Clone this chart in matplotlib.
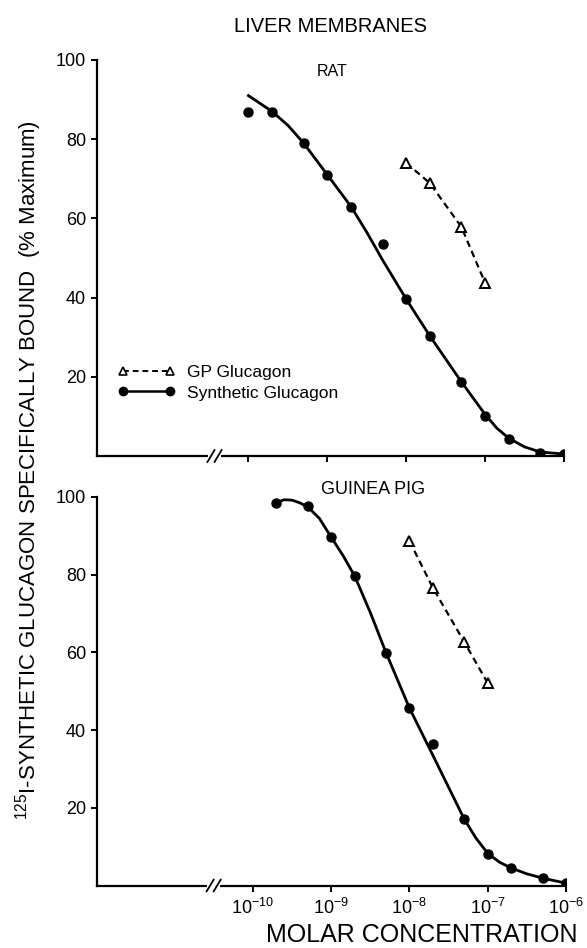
import matplotlib
matplotlib.use('Agg')
import matplotlib.pyplot as plt
import numpy as np

plt.rcParams['font.family'] = ['Liberation Sans', 'DejaVu Sans']
plt.rcParams['mathtext.fontset'] = 'custom'
plt.rcParams['mathtext.rm'] = 'Liberation Sans'
plt.rcParams['mathtext.it'] = 'Liberation Sans:italic'

# log10 of molar concentration
rat_syn_exp = [-10, -9.7, -9.3, -9, -8.7, -8.3, -8, -7.7, -7.3, -7, -6.7, -6.3, -6]
rat_syn = [86.9, 86.9, 79.0, 71.0, 62.9, 53.5, 39.6, 30.3, 18.7, 10.1, 4.3, 0.8, 0.5]
gp_exp = [-8, -7.7, -7.3, -7]
rat_gp = [74.0, 68.9, 57.8, 43.7]

gpig_syn_exp = [-9.7, -9.3, -9, -8.7, -8.3, -8, -7.7, -7.3, -7, -6.7, -6.3, -6]
gpig_syn = [98.5, 97.7, 89.7, 79.7, 59.8, 45.7, 36.4, 17.1, 8.1, 4.5, 1.9, 0.6]
gpig_gp = [88.7, 76.6, 62.7, 52.1]

# fitted curves
rat_fit_exp = [-10.0, -9.7, -9.5, -9.3, -9.0, -8.7, -8.5, -8.3, -8.0, -7.7, -7.5,
               -7.3, -7.0, -6.85, -6.7, -6.5, -6.3, -6.0]
rat_fit = [91, 87, 83.5, 79, 71, 63, 56.5, 49.5, 39.6, 30.3, 24.5,
           18.7, 10.5, 7, 4.5, 2.3, 1.0, 0.5]
gpig_fit_exp = [-9.7, -9.6, -9.5, -9.4, -9.3, -9.15, -9.0, -8.85, -8.7, -8.5, -8.3,
                -8.0, -7.7, -7.5, -7.3, -7.15, -7.0, -6.85, -6.7, -6.5, -6.3, -6.0]
gpig_fit = [98.5, 99.3, 99.2, 98.5, 97.5, 94.5, 89.7, 85, 79.7, 70.3, 60.0,
            45.7, 33.5, 25.3, 17.1, 12.2, 8.3, 6.0, 4.5, 3.0, 1.9, 0.6]

yticks = [20, 40, 60, 80, 100]
xticks_exp = [-10, -9, -8, -7, -6]

W, H = 587, 948
fig = plt.figure(figsize=(W / 100, H / 100), dpi=100)

ax1 = fig.add_axes([97 / W, 1 - 456 / H, (564 - 97) / W, (456 - 60) / H])
ax2 = fig.add_axes([97 / W, 1 - 885.5 / H, (566 - 97) / W, (885.5 - 497) / H])


def pow10(e):
    return 10.0 ** np.array(e)


def style(ax, xmin, labels):
    ax.set_xscale('log')
    ax.set_xlim(10 ** xmin, 10 ** -6)
    ax.set_ylim(0, 100)
    for s in ['top', 'right']:
        ax.spines[s].set_visible(False)
    for s in ['left', 'bottom']:
        ax.spines[s].set_linewidth(1.6)
    ax.set_yticks(yticks)
    ax.set_xticks(pow10(xticks_exp))
    ax.xaxis.set_minor_locator(matplotlib.ticker.NullLocator())
    if labels:
        ax.set_xticklabels(['$10^{%d}$' % e for e in xticks_exp])
    else:
        ax.set_xticklabels([])
    ax.tick_params(axis='both', direction='out', length=4, width=1.4,
                   labelsize=13, pad=4)
    ax.tick_params(axis='x', pad=5)
    # axis break
    bx = 10 ** (xmin + 1.49)
    tr = ax.get_xaxis_transform()
    ax.plot([bx * 10 ** -0.06, bx * 10 ** 0.06], [0, 0], color='white', lw=3,
            transform=tr, clip_on=False, zorder=5)
    for dx in (-0.045, 0.045):
        c = bx * 10 ** dx
        ax.plot([c * 10 ** -0.045, c * 10 ** 0.045], [-0.015, 0.015], color='black',
                lw=1.3, transform=tr, clip_on=False, zorder=6)


style(ax1, -11.92, False)
style(ax2, -11.99, True)

ax1.plot(pow10(rat_fit_exp), rat_fit, 'k-', lw=2)
ax1.plot(pow10(rat_syn_exp), rat_syn, 'ko', ms=6.5, ls='none')
ax1.plot(pow10(gp_exp), rat_gp, 'k--', lw=1.6, dashes=(3, 2), marker='^',
         ms=7, mfc='white', mec='black', mew=1.4)

ax2.plot(pow10(gpig_fit_exp), gpig_fit, 'k-', lw=2)
ax2.plot(pow10(gpig_syn_exp), gpig_syn, 'ko', ms=6.5, ls='none')
ax2.plot(pow10(gp_exp), gpig_gp, 'k--', lw=1.6, dashes=(3, 2), marker='^',
         ms=7, mfc='white', mec='black', mew=1.4)

# legend
h1, = ax1.plot([], [], 'k--', lw=1.4, dashes=(3, 2), marker='^', ms=6,
               mfc='white', mec='black', mew=1.2)
h2, = ax1.plot([], [], 'k-', lw=1.8, marker='o', ms=6)
ax1.legend([h1, h2], ['GP Glucagon', 'Synthetic Glucagon'], loc='upper left',
           bbox_to_anchor=(118 / W, 1 - 365 / H), bbox_transform=fig.transFigure,
           frameon=False, numpoints=2, handlelength=3.28, handletextpad=0.7,
           labelspacing=0.3, borderpad=0, borderaxespad=0, fontsize=12.5)

fig.text(330 / W, 1 - 27 / H, 'LIVER MEMBRANES', ha='center', va='center', fontsize=14.5)
fig.text(332 / W, 1 - 72 / H, 'RAT', ha='center', va='center', fontsize=11.5)
fig.text(373 / W, 1 - 490 / H, 'GUINEA PIG', ha='center', va='center', fontsize=13)
fig.text(422 / W, 1 - 935 / H, 'MOLAR CONCENTRATION', ha='center', va='center', fontsize=18)
fig.text(29 / W, 1 - 470 / H, '$^{125}$I-SYNTHETIC GLUCAGON SPECIFICALLY BOUND  (% Maximum)',
         ha='center', va='center', rotation=90, fontsize=16)

fig.savefig('out.png', dpi=100)
